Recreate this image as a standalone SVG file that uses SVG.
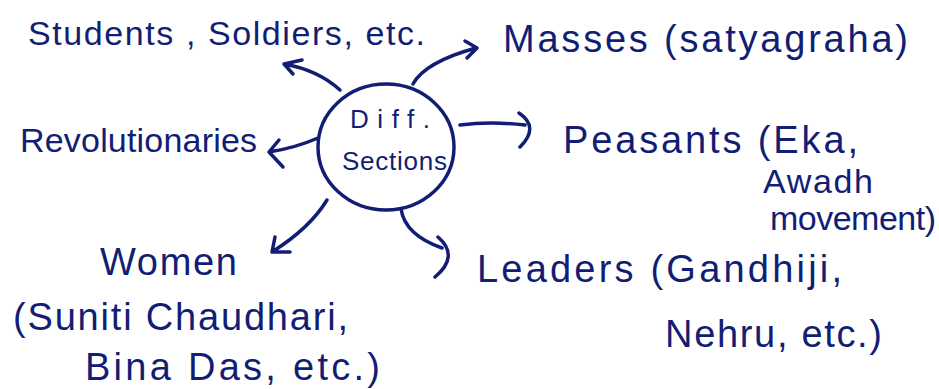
<svg xmlns="http://www.w3.org/2000/svg" width="939" height="389" viewBox="0 0 939 389">
<style>
.t{font-family:"Liberation Sans","DejaVu Sans",sans-serif;fill:#121e74;font-size:34px}
.b{font-size:38px}
.s{font-family:"Liberation Sans","DejaVu Sans",sans-serif;fill:#121e74;font-size:26px}
.c{fill:none;stroke:#121e74;stroke-width:3.5;stroke-linecap:round;stroke-linejoin:round}
</style>
<rect width="939" height="389" fill="#ffffff"/>
<g id="center">
<ellipse class="c" cx="386" cy="147" rx="68" ry="63"/>
<text class="s" x="350" y="128" textLength="80" lengthAdjust="spacing">Diff.</text>
<text class="s" x="342" y="170" textLength="105" lengthAdjust="spacing">Sections</text>
</g>
<g id="students"><text class="t" x="28" y="45" textLength="397" lengthAdjust="spacing">Students , Soldiers, etc.</text></g>
<g id="masses"><text class="t b" x="503" y="52" textLength="405" lengthAdjust="spacing">Masses (satyagraha)</text></g>
<g id="peasants">
<text class="t b" x="563" y="153" textLength="295" lengthAdjust="spacing">Peasants (Eka,</text>
<text class="t" x="763" y="193" textLength="110" lengthAdjust="spacing">Awadh</text>
<text class="t" x="770" y="230" textLength="166" lengthAdjust="spacing">movement)</text>
</g>
<g id="revolutionaries"><text class="t" x="20" y="152" textLength="237" lengthAdjust="spacing">Revolutionaries</text></g>
<g id="women">
<text class="t b" x="100" y="275" textLength="137" lengthAdjust="spacing">Women</text>
<text class="t b" x="13" y="330" textLength="335" lengthAdjust="spacing">(Suniti Chaudhari,</text>
<text class="t b" x="85" y="380" textLength="295" lengthAdjust="spacing">Bina Das, etc.)</text>
</g>
<g id="leaders">
<text class="t b" x="477" y="282" textLength="365" lengthAdjust="spacing">Leaders (Gandhiji,</text>
<text class="t b" x="665" y="347" textLength="217" lengthAdjust="spacing">Nehru, etc.)</text>
</g>
<g id="connectors">
<path class="c" d="M340 90 Q318 70 284 64 M302 60 L284 64 L293 74"/>
<path class="c" d="M413 84 Q425 62 476 48 M465 41 L477 48 L467 58"/>
<path class="c" d="M460 125 Q490 121 525 125 M519 113 Q540 127 520 147"/>
<path class="c" d="M318 138 Q295 148 269 152 M279 140 L269 152 L283 167"/>
<path class="c" d="M327 200 Q310 228 272 252 M275 237 L272 252 L290 252"/>
<path class="c" d="M401 209 Q405 235 442 248 M438 237 Q460 256 435 277"/>
</g>
</svg>
